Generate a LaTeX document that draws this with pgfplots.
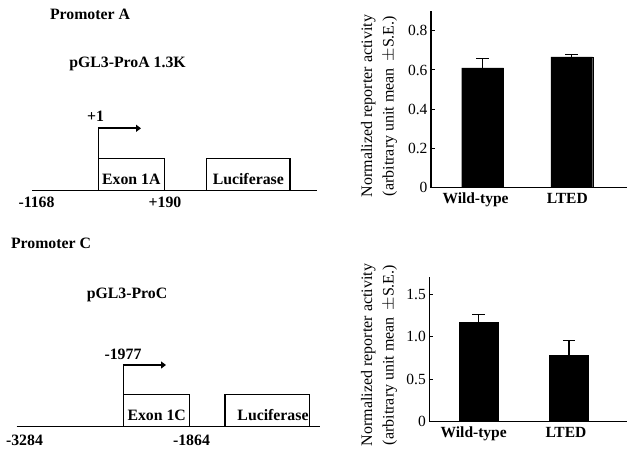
\documentclass[border=0pt]{standalone}
\usepackage{pgfplots}
\pgfplotsset{compat=1.18}
\usepackage{pgfplotstable}
\usepackage{fontspec}
\setmainfont{Liberation Serif}
\usetikzlibrary{arrows.meta}

\pgfplotstableread{
x y e
0 0.611 0.046
1 0.667 0.013
}\dataA
\pgfplotstableread{
x y e
0 1.17 0.09
1 0.78 0.18
}\dataC

\pgfplotsset{
  barax/.style={
    scale only axis,
    axis x line*=bottom, axis y line*=left,
    axis line style={line width=1.1pt},
    ymin=0,
    xtick={0,1}, xticklabels={Wild-type,LTED},
    major x tick style={draw=none},
    x tick label style={font=\fontsize{15.5}{18}\selectfont\bfseries, yshift=-2pt},
    y tick label style={font=\fontsize{15.5}{18}\selectfont},
    /pgf/number format/assume math mode=true,
    major tick length=4pt,
    tick style={line width=1pt, black},
    clip=false,
  },
  barplot/.style={
    ybar, fill=black, draw=black,
    error bars/y dir=plus, error bars/y explicit,
    error bars/error bar style={line width=1.3pt, black},
    error bars/error mark options={rotate=90, mark size=6.3pt, line width=1.3pt, black},
  },
}

\begin{document}
\begin{tikzpicture}
\path (0,0) rectangle (637pt,457pt);
% background diagram axis in pixel coordinates
\begin{axis}[at={(0,0)}, anchor=south west, scale only axis, width=637pt, height=457pt,
  xmin=0, xmax=637, ymin=0, ymax=457, y dir=reverse, hide axis, clip=false]
\tikzset{lab/.style={font=\fontsize{15.8}{18}\selectfont\bfseries, inner sep=0pt}}
% Promoter A
\node[lab] at (90,14) {Promoter A};
\node[lab] at (127.5,63.5) {pGL3-ProA 1.3K};
\draw[line width=1.3pt] (32,190.7) -- (317,190.7);
\draw[line width=1.1pt] (98.3,190.7) rectangle (164.3,158.7);
\draw[line width=1.1pt] (206.7,190.7) rectangle (290,158.7);
\draw[line width=1.1pt] (98.3,158.7) -- (98.3,128.3);
\draw[line width=2.2pt, -{Triangle[length=5pt,width=7pt]}] (97.8,128.3) -- (141,128.3);
\node[lab] at (95.5,116.5) {+1};
\node[lab] at (131.3,179) {Exon 1A};
\node[lab] at (248.3,179) {Luciferase};
\node[lab] at (36.5,202) {-1168};
\node[lab] at (165,202) {+190};
% Promoter C
\node[lab] at (51,243) {Promoter C};
\node[lab] at (127,295) {pGL3-ProC};
\draw[line width=1.3pt] (16.7,426.7) -- (320,426.7);
\draw[line width=1.1pt] (123.3,426.7) rectangle (189.3,394.7);
\draw[line width=1.1pt] (225,426.7) rectangle (309.3,394.7);
\draw[line width=1.1pt] (123.3,394.7) -- (123.3,365);
\draw[line width=2.2pt, -{Triangle[length=5pt,width=7pt]}] (122.8,365) -- (166,365);
\node[lab] at (123,354) {-1977};
\node[lab] at (156.7,415) {Exon 1C};
\node[lab] at (273,415) {Luciferase};
\node[lab] at (24.5,440) {-3284};
\node[lab] at (191.5,440) {-1864};
% y axis labels
\node[rotate=90, align=center, font=\fontsize{16}{21.5}\selectfont] at (379,106)
  {Normalized reporter activity\\(arbitrary unit mean \,$\pm$S.E.)};
\node[rotate=90, align=center, font=\fontsize{16}{21.5}\selectfont] at (379,355)
  {Normalized reporter activity\\(arbitrary unit mean \,$\pm$S.E.)};
\end{axis}

% top bar chart
\begin{axis}[barax, at={(431pt,269.3pt)}, anchor=south west, width=196pt, height=176.6pt,
  xmin=-0.58, xmax=1.62, ymax=0.9,
  xtick={-0.08,0.95},
  ytick={0,0.2,0.4,0.6,0.8}, yticklabels={0,0.2,0.4,0.6,0.8}]
\addplot[barplot, bar width=0.47] table[x=x, y=y, y error=e] {\dataA};
\end{axis}

% bottom bar chart
\begin{axis}[barax, at={(429.3pt,35.3pt)}, anchor=south west, width=197.7pt, height=144.4pt,
  xmin=-0.546, xmax=1.64, ymax=1.7,
  xtick={-0.055,0.965},
  ytick={0,0.5,1.0,1.5}, yticklabels={0,0.5,1.0,1.5}]
\addplot[barplot, bar width=0.43] table[x=x, y=y, y error=e] {\dataC};
\end{axis}
\end{tikzpicture}
\end{document}
